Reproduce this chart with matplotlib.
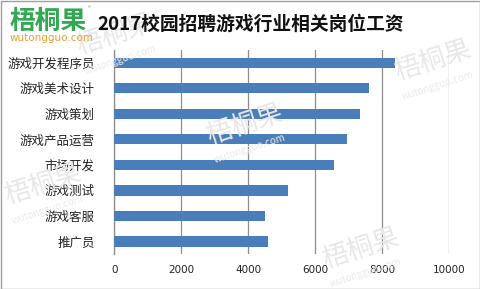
import matplotlib
matplotlib.use("Agg")
import matplotlib.pyplot as plt
from matplotlib.patches import Rectangle

plt.rcParams['font.family'] = ['Noto Sans CJK SC', 'DejaVu Sans']

categories = ['游戏开发程序员', '游戏美术设计', '游戏策划', '游戏产品运营',
              '市场开发', '游戏测试', '游戏客服', '推广员']
salaries = [8400, 7600, 7350, 6950, 6550, 5200, 4500, 4600]
xticks = [0, 2000, 4000, 6000, 8000, 10000]
title = '2017校园招聘游戏行业相关岗位工资'

fig = plt.figure(figsize=(4.81, 2.89), dpi=100)
fig.patch.set_facecolor('white')
ax = fig.add_axes([114.3/481, 1-254.3/289, (449-114.3)/481, (254.3-50)/289])

# watermarks (behind)
wm = [(0.24, 0.88), (0.51, 0.57), (0.90, 0.79), (0.09, 0.36), (0.75, 0.14)]
for x, y in wm:
    fig.text(x, y, '梧桐果', fontsize=19, color='#e8e8e8', rotation=18, ha='center', va='center',
             zorder=0)
    fig.text(x+0.01, y-0.085, 'wutongguo.com', fontsize=7, color='#ebebeb', rotation=18,
             ha='center', va='center', zorder=0)

ax.set_facecolor('none')
ypos = list(range(len(categories)))
ax.barh(ypos, salaries, height=0.4, color='#4a7ebb', zorder=3)
ax.set_xlim(0, 10000)
ax.set_ylim(len(categories)-0.5, -0.5)
ax.set_xticks(xticks)
ax.set_xticklabels([str(v) for v in xticks], fontsize=7.5, family=['DejaVu Sans'])
ax.set_yticks(ypos)
ax.set_yticklabels(categories, fontsize=9)
ax.tick_params(axis='both', length=0, colors='#222222')
ax.tick_params(axis='y', pad=14)
ax.tick_params(axis='x', pad=8)
ax.grid(axis='x', color='#8c8c8c', linewidth=0.9, zorder=1)
for sp in ['top', 'right', 'bottom']:
    ax.spines[sp].set_visible(False)
ax.spines['left'].set_color('#8c8c8c')
ax.spines['left'].set_linewidth(0.9)

# title and logo
fig.text(251/481, 1-24/289, title, fontsize=13.5, fontweight='bold', ha='center', va='center', color='#111111')
fig.text(10/481, 1-21/289, '梧桐果', fontsize=18.5, fontweight='bold', color='#33a852', ha='left', va='center')
fig.text(88/481, 1-9/289, '®', fontsize=4, color='#33a852', ha='left', va='center')
fig.text(10/481, 1-38/289, 'wutongguo.com', fontsize=7.5, color='#f0a030', ha='left', va='center',
         family=['DejaVu Sans'])

fig.patches.append(Rectangle((0.5/481, 0.5/289), 479.5/481, 287.5/289, transform=fig.transFigure,
                             fill=False, edgecolor='#a0a0a0', linewidth=1))

fig.savefig('out.png', dpi=100, facecolor='white')
